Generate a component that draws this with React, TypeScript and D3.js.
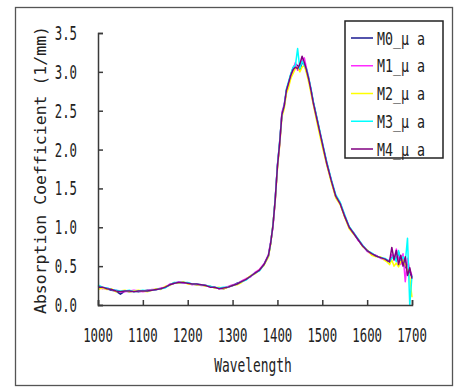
import React, { useRef, useEffect } from "react";
import * as d3 from "d3";

// sampling grid (nm)
const wavelengths = [
  1000, 1010, 1020, 1030, 1040, 1050, 1060, 1070, 1080, 1090,
  1100, 1110, 1120, 1130, 1140, 1150, 1160, 1170, 1180, 1190,
  1200, 1210, 1220, 1230, 1240, 1250, 1260, 1270, 1280, 1290,
  1300, 1310, 1320, 1330, 1340, 1350, 1360, 1370, 1380,
  1385, 1390, 1395, 1400, 1405, 1410, 1415, 1420, 1425, 1430,
  1435, 1440, 1445, 1450, 1455, 1460, 1465, 1470, 1475, 1480,
  1490, 1500, 1510, 1520, 1530, 1540, 1550, 1560, 1570, 1580,
  1590, 1600, 1610, 1620, 1630, 1640,
  1645, 1650, 1655, 1660, 1665, 1670, 1675, 1680, 1685, 1690, 1695, 1700,
];

const m0 = [
  0.24, 0.22, 0.21, 0.19, 0.18, 0.14, 0.18, 0.17, 0.18, 0.17,
  0.18, 0.19, 0.19, 0.2, 0.21, 0.23, 0.26, 0.28, 0.29, 0.29,
  0.28, 0.27, 0.26, 0.26, 0.25, 0.24, 0.22, 0.22, 0.21, 0.23,
  0.25, 0.28, 0.3, 0.33, 0.37, 0.41, 0.45, 0.52, 0.63,
  0.8, 1.02, 1.36, 1.78, 2.1, 2.46, 2.55, 2.76, 2.86, 2.97,
  3.05, 3.1, 3.08, 3.02, 3.12, 3.1, 3.0, 2.9, 2.76, 2.61,
  2.35, 2.07, 1.83, 1.6, 1.4, 1.31, 1.14, 1.0, 0.92, 0.84,
  0.76, 0.7, 0.66, 0.63, 0.61, 0.59,
  0.57, 0.55, 0.62, 0.6, 0.58, 0.68, 0.54, 0.62, 0.48, 0.55, 0.42, 0.36,
];
const m1 = [
  0.23, 0.21, 0.22, 0.2, 0.19, 0.17, 0.17, 0.18, 0.19, 0.18,
  0.17, 0.18, 0.2, 0.2, 0.22, 0.23, 0.27, 0.28, 0.3, 0.28,
  0.28, 0.26, 0.27, 0.25, 0.25, 0.23, 0.23, 0.21, 0.22, 0.24,
  0.26, 0.27, 0.31, 0.34, 0.36, 0.42, 0.46, 0.53, 0.65,
  0.82, 1.0, 1.34, 1.8, 2.06, 2.48, 2.58, 2.74, 2.84, 2.93,
  3.0, 3.12, 3.02, 3.08, 3.14, 3.18, 3.04, 2.92, 2.74, 2.59,
  2.33, 2.09, 1.81, 1.61, 1.39, 1.3, 1.15, 0.99, 0.93, 0.83,
  0.77, 0.69, 0.65, 0.64, 0.6, 0.58,
  0.58, 0.57, 0.65, 0.58, 0.72, 0.6, 0.52, 0.66, 0.3, 0.6, 0.45, 0.38,
];
const m2 = [
  0.2, 0.22, 0.2, 0.21, 0.17, 0.18, 0.19, 0.17, 0.18, 0.19,
  0.18, 0.17, 0.19, 0.21, 0.2, 0.24, 0.25, 0.29, 0.28, 0.3,
  0.27, 0.27, 0.26, 0.26, 0.24, 0.24, 0.22, 0.23, 0.21, 0.23,
  0.25, 0.26, 0.29, 0.33, 0.38, 0.4, 0.45, 0.51, 0.62,
  0.78, 1.04, 1.33, 1.75, 2.05, 2.42, 2.52, 2.72, 2.8, 2.92,
  2.98, 3.04, 3.06, 3.0, 3.06, 3.08, 2.98, 2.86, 2.72, 2.58,
  2.3, 2.04, 1.8, 1.58, 1.38, 1.29, 1.13, 0.98, 0.91, 0.85,
  0.75, 0.71, 0.64, 0.62, 0.62, 0.57,
  0.55, 0.52, 0.58, 0.5, 0.54, 0.49, 0.56, 0.58, 0.52, 0.45, 0.35, 0.1,
];
const m3 = [
  0.26, 0.23, 0.22, 0.2, 0.19, 0.18, 0.18, 0.19, 0.17, 0.18,
  0.19, 0.18, 0.19, 0.2, 0.21, 0.22, 0.26, 0.29, 0.29, 0.29,
  0.29, 0.27, 0.27, 0.26, 0.25, 0.24, 0.23, 0.22, 0.23, 0.23,
  0.25, 0.27, 0.3, 0.32, 0.37, 0.41, 0.44, 0.52, 0.64,
  0.8, 1.03, 1.36, 1.8, 2.1, 2.45, 2.57, 2.78, 2.88, 2.98,
  3.06, 3.08, 3.3, 3.04, 3.14, 3.08, 3.04, 2.92, 2.78, 2.62,
  2.36, 2.1, 1.84, 1.62, 1.42, 1.32, 1.16, 1.01, 0.93, 0.85,
  0.77, 0.7, 0.67, 0.63, 0.61, 0.6,
  0.58, 0.56, 0.6, 0.64, 0.56, 0.7, 0.58, 0.62, 0.55, 0.86, 0.0, 0.38,
];
const m4 = [
  0.23, 0.23, 0.21, 0.2, 0.18, 0.17, 0.18, 0.18, 0.17, 0.18,
  0.18, 0.18, 0.19, 0.2, 0.21, 0.23, 0.26, 0.28, 0.29, 0.29,
  0.28, 0.27, 0.27, 0.26, 0.25, 0.23, 0.23, 0.21, 0.22, 0.23,
  0.25, 0.27, 0.3, 0.33, 0.37, 0.41, 0.45, 0.52, 0.64,
  0.8, 1.02, 1.35, 1.78, 2.08, 2.45, 2.56, 2.76, 2.86, 2.96,
  3.03, 3.06, 3.04, 3.1, 3.2, 3.12, 3.02, 2.9, 2.76, 2.6,
  2.34, 2.08, 1.82, 1.6, 1.4, 1.3, 1.14, 1.0, 0.92, 0.84,
  0.76, 0.7, 0.66, 0.63, 0.61, 0.59,
  0.57, 0.56, 0.74, 0.58, 0.7, 0.52, 0.64, 0.5, 0.62, 0.38, 0.48, 0.34,
];

const seriesNames = ["M0_μ a", "M1_μ a", "M2_μ a", "M3_μ a", "M4_μ a"];
const seriesValues = [m0, m1, m2, m3, m4];
const seriesColors = ["#1a1a90", "#ff2bff", "#ffff00", "#00ffff", "#800080"];

const xTicks = [1000, 1100, 1200, 1300, 1400, 1500, 1600, 1700];
const yTicks = [0, 0.5, 1, 1.5, 2, 2.5, 3, 3.5];

const FONT = "DejaVu Sans Mono, monospace";

const App = () => {
  const ref = useRef<SVGSVGElement>(null);

  useEffect(() => {
    const svg = d3.select(ref.current);
    svg.selectAll("*").remove();

    const x = d3.scaleLinear().domain([1000, 1700]).range([98, 412]);
    const y = d3.scaleLinear().domain([0, 3.5]).range([305, 33]);

    svg.append("rect").attr("width", 455).attr("height", 387).attr("fill", "white");

    // outer frame
    svg
      .append("rect")
      .attr("x", 15.5)
      .attr("y", 7.5)
      .attr("width", 437)
      .attr("height", 378)
      .attr("fill", "none")
      .attr("stroke", "#555")
      .attr("stroke-width", 1.3);

    const line = d3
      .line<number>()
      .x((d, i) => x(wavelengths[i]))
      .y((d) => y(d));

    seriesValues.forEach((vals, i) => {
      svg
        .append("path")
        .attr("d", line(vals))
        .attr("fill", "none")
        .attr("stroke", seriesColors[i])
        .attr("stroke-width", 1.5)
        .attr("stroke-linejoin", "round");
    });

    // axes, ticks pointing inward
    const yAxis = svg
      .append("g")
      .attr("transform", "translate(98,0)")
      .call(d3.axisLeft(y).tickValues(yTicks).tickSize(-5).tickFormat(() => ""));
    const xAxis = svg
      .append("g")
      .attr("transform", "translate(0,305)")
      .call(d3.axisBottom(x).tickValues(xTicks).tickSize(-5).tickFormat(() => ""));
    [yAxis, xAxis].forEach((a) => {
      a.selectAll("text").remove();
      a.selectAll("path, line").attr("stroke", "#3a3a3a").attr("stroke-width", 1.5);
    });

    // tick labels (condensed mono)
    svg
      .selectAll(".ylab")
      .data(yTicks)
      .enter()
      .append("text")
      .attr("transform", (d) => `translate(77,${y(d) + 7}) scale(0.65,1)`)
      .attr("text-anchor", "end")
      .style("font-family", FONT)
      .style("font-size", "19px")
      .style("fill", "#222")
      .text((d) => d.toFixed(1));

    svg
      .selectAll(".xlab")
      .data(xTicks)
      .enter()
      .append("text")
      .attr("transform", (d) => `translate(${x(d)},342) scale(0.65,1)`)
      .attr("text-anchor", "middle")
      .style("font-family", FONT)
      .style("font-size", "19px")
      .style("fill", "#222")
      .text((d) => d);

    svg
      .append("text")
      .attr("transform", "translate(253,372) scale(0.68,1)")
      .attr("text-anchor", "middle")
      .style("font-family", FONT)
      .style("font-size", "19px")
      .style("fill", "#222")
      .text("Wavelength");

    svg
      .append("text")
      .attr("transform", "translate(46,170) rotate(-90)")
      .attr("text-anchor", "middle")
      .style("font-family", FONT)
      .style("font-size", "16.5px")
      .style("fill", "#222")
      .text("Absorption Coefficient (1/mm)");

    // legend
    const legend = svg.append("g");
    legend
      .append("rect")
      .attr("x", 345)
      .attr("y", 21)
      .attr("width", 98)
      .attr("height", 137)
      .attr("fill", "white")
      .attr("stroke", "#222")
      .attr("stroke-width", 1.5);

    const ly = d3.scalePoint<string>().domain(seriesNames).range([38, 149]);
    seriesNames.forEach((name, i) => {
      legend
        .append("line")
        .attr("x1", 351)
        .attr("x2", 373)
        .attr("y1", ly(name)!)
        .attr("y2", ly(name)!)
        .attr("stroke", seriesColors[i])
        .attr("stroke-width", 1.5);
      legend
        .append("text")
        .attr("transform", `translate(377,${ly(name)! + 6.5}) scale(0.74,1)`)
        .style("font-family", FONT)
        .style("font-size", "18px")
        .style("fill", "#222")
        .text(name);
    });
  }, []);

  return (
    <svg
      ref={ref}
      width={455}
      height={387}
      style={{ position: "absolute", left: 0, top: 0 }}
    />
  );
};

export default App;
